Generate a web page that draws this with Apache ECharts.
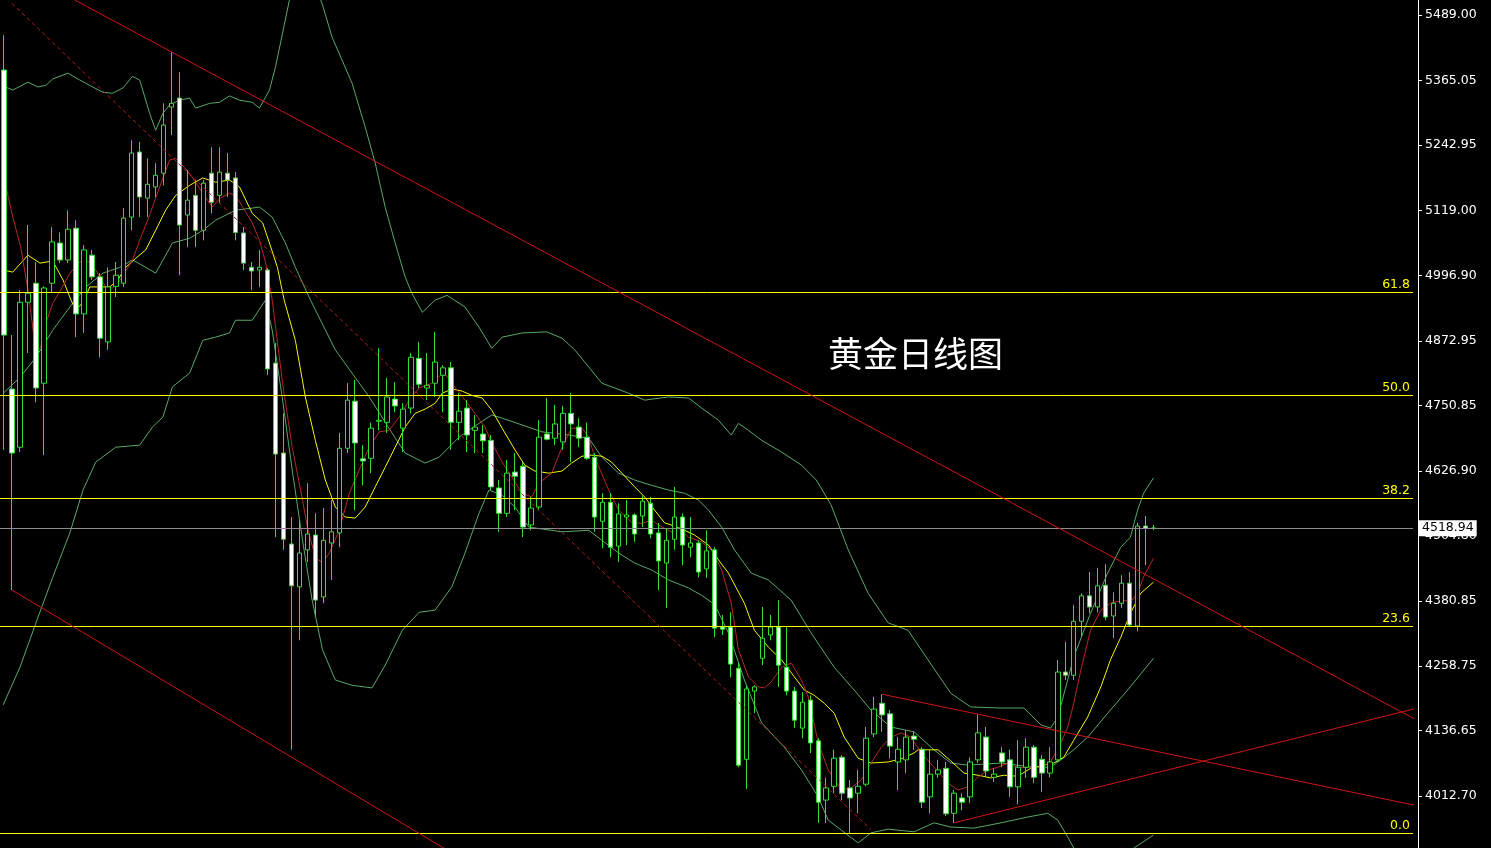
<!DOCTYPE html>
<html>
<head>
<meta charset="utf-8">
<style>html,body{margin:0;padding:0;background:#000;}#c{width:1491px;height:848px;}</style>
<script src="https://cdn.jsdelivr.net/npm/echarts@6/dist/echarts.min.js"></script>
</head>
<body>
<div id="c"></div>
<script>
// ---- data ----
const slotCount = 177;
const candles = [ // [open, close, low, high]
[5385,4884,4667,5451],[4782,4661,4402,4884],[4672,4946,4663,4969],[4946,4963,4850,5092],[4982,4784,4757,5022],
[4793,4973,4657,4976],[4982,5060,4965,5088],[5058,5026,5020,5078],[5026,5084,5020,5120],[5086,4924,4880,5101],
[4924,5045,4888,5054],[5035,4994,4988,5045],[4994,4878,4842,5001],[4871,4975,4856,5012],[4976,4997,4956,5022],
[4982,5105,4975,5124],[5107,5228,5082,5252],[5230,5145,5107,5249],[5143,5169,5107,5218],[5164,5186,5145,5209],
[5190,5281,5167,5322],[5315,5322,5262,5419],[5332,5092,4997,5381],[5111,5139,5050,5196],[5148,5082,5050,5177],
[5082,5171,5063,5177],[5190,5135,5114,5239],[5148,5192,5133,5239],[5190,5177,5145,5228],[5181,5078,5063,5192],
[5077,5020,5007,5088],[5012,5005,4969,5022],[5007,5012,4975,5045],[5007,4820,4808,5011],[4831,4659,4502,4869],
[4661,4498,4478,4736],[4489,4410,4100,4540],[4408,4472,4307,4534],[4478,4508,4455,4604],[4506,4383,4351,4547],
[4389,4496,4377,4557],[4491,4512,4421,4572],[4510,4670,4483,4699],[4670,4761,4661,4793],[4759,4680,4553,4799],
[4650,4646,4600,4676],[4651,4708,4623,4719],[4721,4723,4704,4859],[4719,4767,4699,4803],[4763,4750,4738,4795],
[4708,4744,4663,4755],[4746,4842,4736,4850],[4840,4791,4784,4871],[4784,4789,4761,4850],[4793,4833,4767,4890],
[4808,4822,4738,4827],[4822,4719,4667,4833],[4719,4740,4685,4774],[4746,4695,4663,4761],[4704,4710,4661,4733],
[4697,4684,4661,4714],[4685,4597,4591,4695],[4595,4547,4512,4610],[4547,4623,4540,4648],[4625,4617,4553,4661],
[4636,4521,4502,4644],[4525,4557,4515,4578],[4559,4691,4553,4723],[4697,4687,4685,4765],[4689,4716,4676,4752],
[4682,4736,4667,4750],[4736,4716,4644,4774],[4710,4689,4672,4727],[4691,4651,4648,4719],[4653,4540,4512,4661],
[4532,4568,4481,4585],[4568,4483,4464,4585],[4485,4546,4455,4566],[4540,4544,4487,4572],[4544,4508,4493,4547],
[4542,4570,4521,4581],[4566,4508,4500,4578],[4510,4457,4402,4529],[4453,4496,4368,4519],[4498,4540,4478,4597],
[4540,4487,4449,4547],[4483,4491,4464,4540],[4491,4436,4426,4496],[4442,4476,4425,4515],[4478,4330,4313,4483],
[4332,4328,4317,4355],[4332,4262,4237,4360],[4254,4071,4067,4264],[4082,4215,4026,4222],[4211,4219,4169,4222],
[4273,4311,4260,4370],[4317,4332,4307,4355],[4332,4260,4219,4383],[4256,4211,4203,4332],[4211,4156,4141,4219],
[4141,4190,4122,4209],[4194,4113,4094,4203],[4117,4001,3962,4122],[4005,4028,3962,4047],[4031,4084,4018,4100],
[4086,4018,4005,4090],[4028,4009,3943,4043],[4018,4031,3980,4062],[4035,4122,4031,4143],[4130,4177,4124,4200],
[4188,4166,4134,4205],[4168,4107,4084,4175],[4077,4101,4024,4124],[4081,4124,4056,4137],[4126,4120,4100,4134],
[4101,4001,3990,4105],[4011,4054,3980,4100],[4054,4062,4047,4081],[4065,3979,3975,4077],[3980,4018,3962,4024],
[4009,4001,3986,4018],[4011,4077,3999,4086],[4081,4132,4075,4166],[4124,4060,4048,4143],[4048,4054,4039,4065],
[4094,4077,4067,4105],[4081,4030,4011,4100],[4030,4067,3997,4118],[4067,4105,4047,4122],[4105,4048,4037,4109],
[4082,4056,4020,4090],[4056,4077,4048,4105],[4081,4247,4077,4270],[4247,4241,4232,4304],[4241,4343,4232,4374],
[4343,4391,4313,4396],[4391,4370,4358,4436],[4370,4410,4360,4444],[4411,4351,4345,4451],[4353,4377,4311,4398],
[4377,4415,4368,4430],[4415,4336,4332,4436],[4334,4523,4324,4529],[4523,4519,4449,4542],[4519,4518.94,4515,4525]
];
// moving averages / bands: [bar index, price]
const maRed = [[-0.1,5177],[0.25,5164],[1.1,5107],[2.1,5050],[3.0,4969],[3.6,4899],[4.0,4850],[4.6,4861],[5.25,4907],[6.1,4944],[7.1,4969],[8.25,5001],[9.5,5022],[10.25,5026],[11.1,5016],[12.0,4994],[12.75,4975],[13.6,4973],[14.25,4982],[15.1,5001],[16.1,5026],[17.0,5063],[18.25,5111],[19.5,5164],[20.75,5215],[21.5,5218],[22.6,5201],[23.6,5182],[24.9,5152],[26.1,5126],[27.1,5143],[28.25,5152],[29.0,5148],[29.9,5126],[31.1,5096],[32.0,5063],[32.75,5022],[33.6,4950],[34.9,4793],[36.1,4672],[37.4,4572],[38.0,4521],[39.0,4464],[39.9,4453],[40.75,4472],[42.0,4515],[43.25,4585],[44.5,4629],[45.75,4672],[47.0,4701],[48.25,4704],[49.5,4729],[50.75,4761],[52.0,4784],[53.6,4793],[55.1,4814],[56.1,4793],[57.75,4761],[59.0,4736],[60.25,4710],[61.1,4680],[62.4,4644],[64.9,4585],[66.1,4578],[67.0,4604],[68.6,4623],[69.9,4672],[71.1,4708],[72.4,4708],[73.25,4691],[74.0,4653],[75.75,4591],[77.0,4553],[78.6,4530],[79.9,4528],[81.1,4534],[82.4,4521],[83.6,4512],[84.5,4519],[85.75,4502],[87.4,4493],[88.6,4478],[89.9,4440],[91.1,4377],[92.0,4289],[93.25,4238],[94.5,4219],[95.25,4217],[96.1,4228],[97.4,4256],[98.6,4264],[99.9,4232],[100.75,4200],[102.0,4113],[103.25,4062],[104.9,4024],[106.1,4028],[107.4,4043],[108.6,4075],[109.9,4105],[111.1,4124],[112.4,4132],[113.6,4124],[114.9,4094],[116.5,4067],[118.25,4037],[119.5,4024],[120.75,4030],[122.0,4048],[123.25,4062],[124.5,4067],[125.75,4075],[127.0,4066],[128.25,4067],[129.9,4067],[131.1,4077],[132.4,4113],[133.25,4143],[134.0,4188],[134.9,4251],[136.1,4326],[137.4,4364],[138.6,4377],[140.25,4383],[141.1,4379],[142.0,4396],[142.75,4427],[144.0,4462]];
const maYellow = [[-0.1,5007],[1.1,5003],[3.0,5035],[4.5,5020],[6.1,5024],[7.4,4988],[8.4,4950],[9.0,4931],[9.9,4946],[10.75,4975],[12.4,4975],[13.25,4975],[14.25,4988],[15.25,5012],[16.5,5029],[17.75,5045],[19.0,5082],[20.25,5120],[21.5,5148],[23.25,5167],[24.9,5181],[26.5,5173],[28.25,5177],[29.5,5164],[31.1,5114],[32.4,5096],[33.25,5058],[34.25,5012],[35.1,4950],[36.5,4874],[37.75,4767],[39.0,4685],[40.25,4610],[41.5,4559],[42.75,4540],[44.0,4538],[45.25,4559],[46.5,4597],[47.75,4634],[49.0,4672],[50.25,4710],[51.5,4736],[52.75,4744],[54.0,4755],[54.9,4774],[56.1,4782],[57.4,4778],[58.6,4770],[59.9,4765],[61.1,4742],[62.4,4708],[64.0,4667],[65.25,4638],[66.5,4627],[68.25,4623],[69.9,4627],[71.1,4642],[72.4,4655],[73.6,4657],[74.9,4655],[76.1,4644],[77.4,4623],[79.0,4597],[80.25,4578],[81.5,4553],[82.75,4529],[84.0,4523],[85.25,4515],[86.5,4506],[88.25,4487],[89.5,4459],[90.75,4434],[92.75,4377],[94.0,4326],[95.75,4294],[97.4,4270],[99.0,4238],[100.25,4213],[101.5,4203],[102.75,4188],[104.0,4169],[105.25,4124],[107.0,4084],[108.6,4075],[110.75,4077],[112.4,4083],[114.0,4094],[114.5,4100],[117.0,4100],[118.6,4079],[120.25,4056],[122.0,4052],[123.6,4047],[125.25,4052],[127.0,4050],[128.6,4065],[130.25,4071],[131.5,4075],[132.75,4086],[134.0,4118],[135.75,4162],[137.4,4219],[138.6,4270],[139.9,4313],[141.1,4358],[142.4,4396],[144.0,4417]];
const bandUpper = [[-0.1,5355],[1.1,5347],[3.0,5362],[4.25,5353],[5.25,5356],[6.1,5368],[8.0,5379],[9.5,5366],[11.1,5353],[12.4,5343],[13.6,5341],[14.9,5351],[16.1,5373],[17.0,5366],[18.25,5303],[19.0,5271],[19.9,5303],[20.75,5319],[22.0,5328],[23.25,5332],[24.0,5313],[25.75,5322],[27.0,5324],[28.25,5336],[29.5,5328],[31.1,5324],[32.0,5313],[33.25,5347],[34.0,5390],[34.9,5455],[35.75,5517],[36.75,5564],[38.0,5583],[39.0,5545],[39.9,5508],[41.1,5447],[43.6,5360],[45.25,5277],[46.5,5209],[47.75,5126],[49.0,5058],[50.25,4994],[51.1,4963],[52.4,4927],[54.0,4950],[55.5,4959],[57.75,4937],[59.5,4899],[61.1,4859],[62.4,4880],[64.9,4888],[68.0,4890],[69.9,4878],[71.5,4856],[74.9,4793],[78.25,4774],[80.25,4761],[83.25,4767],[85.75,4765],[87.4,4746],[89.5,4723],[91.1,4695],[92.0,4717],[93.25,4704],[94.9,4685],[97.4,4663],[99.9,4638],[101.75,4610],[103.6,4563],[105.75,4478],[108.25,4396],[110.75,4340],[113.25,4326],[115.75,4270],[118.6,4207],[121.1,4181],[124.9,4179],[127.75,4179],[129.9,4147],[131.1,4141],[132.0,4162],[133.25,4232],[134.0,4275],[136.1,4358],[138.25,4434],[139.9,4483],[141.1,4502],[142.0,4553],[142.75,4585],[144.0,4614]];
const bandMiddle = [[-0.1,4774],[2.0,4804],[4.0,4842],[6.1,4893],[8.25,4937],[10.25,4975],[12.4,5001],[14.5,5012],[16.1,5026],[17.75,5012],[19.0,5001],[21.1,5058],[23.25,5067],[24.9,5082],[26.5,5101],[29.0,5120],[31.1,5124],[32.0,5126],[33.6,5107],[35.25,5058],[36.5,5012],[38.4,4950],[41.5,4856],[45.75,4767],[48.6,4699],[50.25,4661],[52.75,4642],[54.5,4653],[57.0,4691],[59.5,4717],[61.1,4733],[62.4,4727],[64.9,4714],[67.4,4701],[70.75,4695],[73.25,4689],[74.9,4653],[77.0,4623],[79.0,4610],[81.1,4600],[83.25,4591],[85.25,4585],[87.0,4572],[88.25,4553],[89.9,4521],[91.5,4478],[93.6,4434],[95.75,4421],[98.6,4383],[101.1,4321],[104.0,4256],[106.5,4213],[108.6,4175],[111.1,4143],[114.0,4134],[116.5,4100],[118.6,4075],[120.75,4071],[124.9,4075],[129.0,4067],[131.1,4067],[132.4,4081],[134.0,4100],[135.75,4124],[138.25,4169],[140.75,4213],[144.0,4273]];
const bandLower = [[-0.1,4185],[2.0,4256],[4.0,4340],[6.1,4426],[8.25,4510],[9.9,4591],[11.5,4644],[14.0,4672],[17.0,4676],[18.6,4710],[19.9,4729],[21.1,4786],[23.25,4812],[24.9,4874],[26.5,4880],[28.25,4888],[29.0,4912],[31.1,4912],[32.75,4950],[33.6,4893],[34.9,4761],[36.1,4629],[37.4,4496],[38.6,4383],[39.9,4289],[41.5,4232],[43.6,4222],[46.1,4217],[47.75,4260],[49.9,4326],[52.0,4360],[54.0,4364],[56.1,4408],[57.75,4472],[59.5,4547],[60.75,4591],[62.4,4581],[64.0,4559],[65.75,4521],[69.9,4512],[73.25,4515],[74.9,4496],[77.0,4472],[79.0,4453],[81.1,4440],[83.25,4421],[85.75,4406],[87.4,4392],[89.0,4375],[90.75,4321],[92.75,4232],[94.9,4151],[97.75,4105],[99.9,4062],[102.0,4011],[103.25,3967],[104.9,3948],[107.0,3924],[108.6,3943],[110.75,3950],[114.0,3945],[116.5,3962],[118.6,3954],[121.5,3952],[124.9,3962],[128.25,3973],[130.75,3980],[132.0,3967],[133.25,3935],[134.5,3901],[137.4,3873],[139.9,3888],[141.5,3914],[144.0,3939]];
// trend lines: [bar index, price]
const channelTop = [[8.9,5517],[177.1,4155]];
const channelBottom = [[1.0,4402],[56.1,3905]];
const channelDashed = [[1.0,5511],[108.6,3949]];
const triangleUpper = [[110.0,4205],[177.1,3994]];
const triangleLower = [[119.0,3962],[177.1,4179]];
// fibonacci levels and price ticks
const fibLabels = ['61.8','50.0','38.2','23.6','0.0'];
const fibPrices = [4965.3,4770.6,4576.0,4334.1,3942.8];
const lastPrice = 4518.94;
const yTicks = [5489.00,5365.05,5242.95,5119.00,4996.90,4872.95,4750.85,4626.90,4504.80,4380.85,4258.75,4136.65,4012.70];
const titleText = '黄金日线图';

// ---- chart ----
const categories = Array.from({length: slotCount}, (_, i) => String(i));
const chart = echarts.init(document.getElementById('c'), null, {renderer: 'canvas'});

function line(data, color, extra) {
  return Object.assign({
    type: 'line', xAxisIndex: 1, yAxisIndex: 0, data: data,
    showSymbol: false, symbol: 'none', silent: true, animation: false, z: 3,
    lineStyle: {color: color, width: 1}
  }, extra || {});
}

const markData = fibPrices.map((p, i) => ({
  yAxis: p,
  lineStyle: {color: '#ffff00', width: 1, type: 'solid'},
  label: {show: true, formatter: fibLabels[i], position: 'insideEndTop', color: '#ffff00',
          fontSize: 12.5, fontFamily: 'DejaVu Sans', distance: [3, 1]}
}));
markData.push({
  yAxis: lastPrice,
  lineStyle: {color: '#8c8c8c', width: 1, type: 'solid'},
  label: {show: true, formatter: lastPrice.toFixed(2), position: 'end', distance: 6,
          color: '#000', backgroundColor: '#fff', padding: [2, 3, 1, 3],
          fontSize: 12.5, fontFamily: 'DejaVu Sans'}
});

chart.setOption({
  backgroundColor: '#000',
  animation: false,
  title: {
    text: titleText, left: 823, top: 331,
    textStyle: {color: '#fff', fontSize: 35, fontWeight: 'normal', fontFamily: 'Noto Sans CJK SC'}
  },
  grid: {left: -3, width: 1416, top: 0, height: 848, containLabel: false},
  xAxis: [
    {type: 'category', data: categories, show: false, boundaryGap: true},
    {type: 'value', min: -0.5, max: slotCount - 0.5, show: false}
  ],
  yAxis: {
    type: 'value', position: 'right', offset: 5, min: 3914.4, max: 5517.35, scale: true,
    splitLine: {show: false},
    axisLine: {show: true, onZero: false, lineStyle: {color: '#fff', width: 1}},
    axisTick: {show: true, length: 4, inside: false, customValues: yTicks, lineStyle: {color: '#fff'}},
    axisLabel: {show: true, customValues: yTicks, color: '#fff', margin: 7, fontSize: 12.5,
                fontFamily: 'DejaVu Sans', formatter: v => Number(v).toFixed(2)}
  },
  series: [
    line(bandUpper, '#5aa86a'),
    line(bandMiddle, '#5aa86a'),
    line(bandLower, '#5aa86a'),
    line(maYellow, '#f5f50a'),
    line(maRed, '#b42828'),
    {
      type: 'candlestick', xAxisIndex: 0, yAxisIndex: 0, data: candles, barWidth: 5, z: 4,
      silent: true, animation: false,
      itemStyle: {color: '#000', color0: '#fff', borderColor: '#33dd33', borderColor0: '#33dd33', borderWidth: 1},
      markLine: {symbol: 'none', silent: true, animation: false, data: markData}
    },
    line(channelTop, '#d01414', {z: 5}),
    line(channelBottom, '#d01414', {z: 5}),
    line(channelDashed, '#b01c1c', {z: 5, lineStyle: {color: '#b01c1c', width: 1, type: [4, 3]}}),
    line(triangleUpper, '#d01414', {z: 5}),
    line(triangleLower, '#d01414', {z: 5})
  ]
});
</script>
</body>
</html>
